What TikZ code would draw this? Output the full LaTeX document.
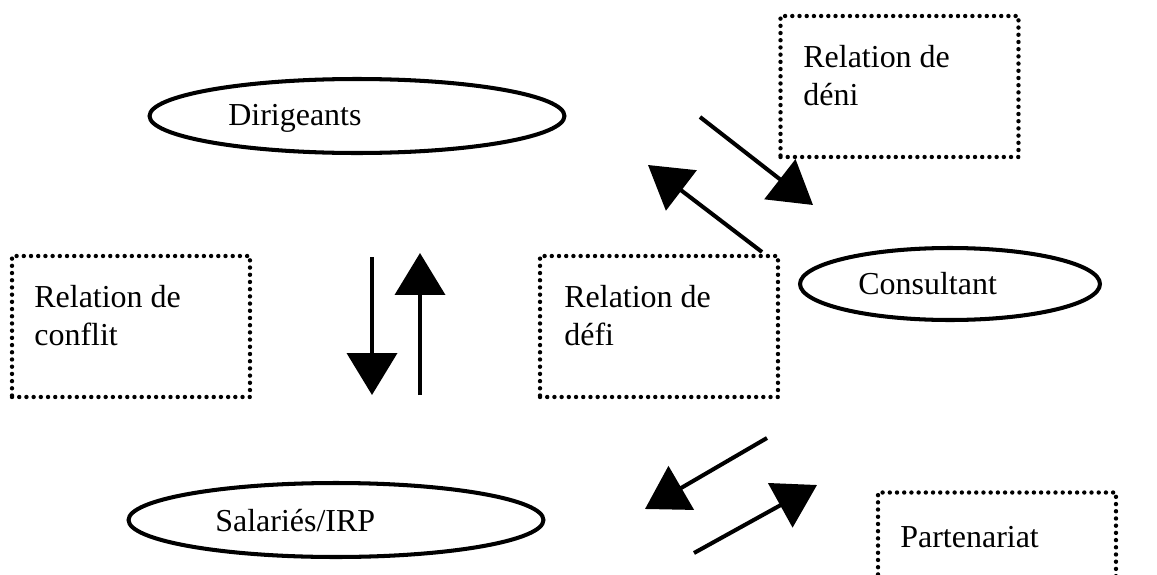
\documentclass[tikz,border=0pt]{standalone}
\usepackage{fontspec}
\setmainfont{Liberation Serif}
\usetikzlibrary{shapes.geometric,arrows.meta}

\begin{document}
\begin{tikzpicture}[x=0.02cm,y=-0.02cm]

  % Definitions
  \tikzstyle{actor} = [ellipse, draw=black, line width=2.3pt, minimum width=8.3cm, minimum height=1.48cm]
  \tikzstyle{relation} = [rectangle, draw=black, line width=2.5pt, dash pattern=on 0pt off 4.1pt, line cap=round, minimum width=4.76cm, minimum height=2.82cm]
  \tikzstyle{txt} = [anchor=base west, inner sep=0pt, align=left, font=\fontsize{18.2pt}{21.3pt}\selectfont]
  \tikzstyle{arrow} = [line width=2.3pt, -{Triangle[length=0.84cm, width=1.0cm]}]

  \useasboundingbox (0,0) rectangle (1157,575);

  % actors
  \node (dir) [actor] at (357,116) {};
  \node (sal) [actor] at (336,520) {};
  \node (cons) [actor, minimum width=6cm, minimum height=1.44cm] at (950,284) {};
  \node (dirtxt) [txt] at (228,125) {Dirigeants};
  \node (saltxt) [txt] at (215,531) {Salariés/IRP};
  \node (constxt) [txt] at (858,294) {Consultant};

  % relations
  \node (deni) [relation] at (899.5,86.5) {};
  \node (conflit) [relation] at (131,326.5) {};
  \node (defi) [relation] at (659,326.5) {};
  \node (part) [relation] at (997,563) {};
  \node (denitxt) [txt] at (803,105) {Relation de\\déni};
  \node (conflittxt) [txt] at (34,345) {Relation de\\conflit};
  \node (defitxt) [txt] at (564,345) {Relation de\\défi};
  \node (parttxt) [txt] at (900,547) {Partenariat};

  % arrow ends
  \coordinate (a1) at (700,117);  \coordinate (b1) at (813,205);
  \coordinate (a2) at (762,252);  \coordinate (b2) at (648,165);
  \coordinate (a3) at (372,257);  \coordinate (b3) at (372,395);
  \coordinate (a4) at (420,395);  \coordinate (b4) at (420,253);
  \coordinate (a5) at (767,438);  \coordinate (b5) at (645,509);
  \coordinate (a6) at (694,553);  \coordinate (b6) at (817,485);

  \draw [arrow] (a1) -- (b1);
  \draw [arrow] (a2) -- (b2);
  \draw [arrow] (a3) -- (b3);
  \draw [arrow] (a4) -- (b4);
  \draw [arrow] (a5) -- (b5);
  \draw [arrow] (a6) -- (b6);

\end{tikzpicture}
\end{document}
